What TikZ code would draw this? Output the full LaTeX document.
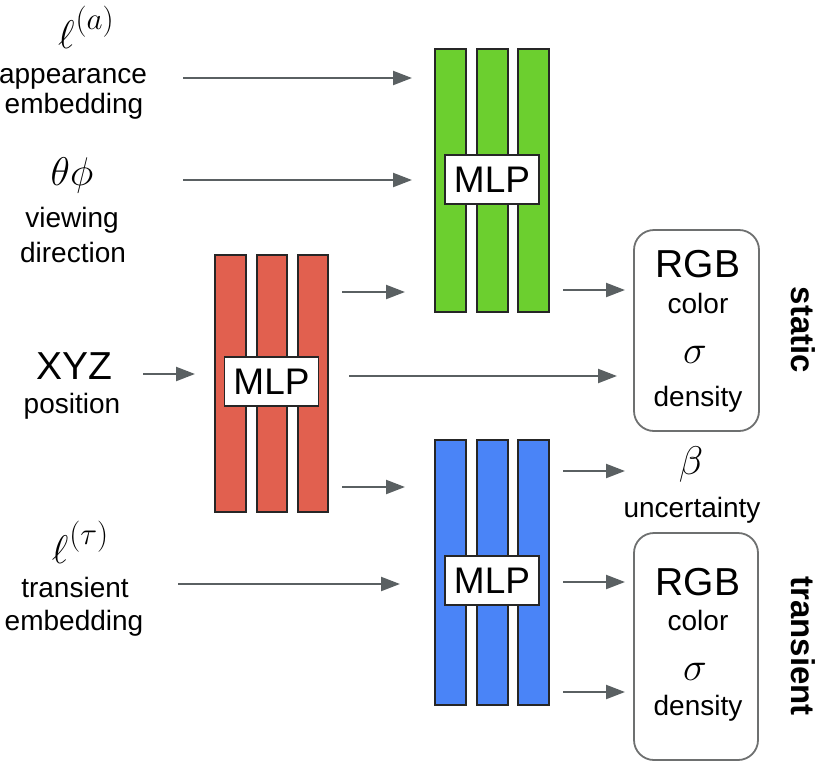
\RequirePackage{fix-cm}
\documentclass[tikz,border=0pt]{standalone}
\usepackage{fontspec}
\setmainfont{Liberation Sans}
\usepackage{graphicx}
\usetikzlibrary{arrows.meta}
\definecolor{gbar}{HTML}{6CCF2F}
\definecolor{rbar}{HTML}{E1604F}
\definecolor{bbar}{HTML}{4A84F7}
\definecolor{agray}{HTML}{5A6062}
\definecolor{boxgray}{HTML}{6E7070}
\newcommand{\ellsup}[1]{$\ell$\kern1pt\raisebox{19pt}{\scalebox{0.78}{$(#1)$}}}
\begin{document}
\begin{tikzpicture}[x=1pt,y=-1pt,
  bar/.style={draw=black!85, line width=1.8pt},
  mlp/.style={draw=black!85, fill=white, line width=1.8pt, minimum width=94pt, minimum height=49pt, inner sep=0pt, font=\fontsize{37}{40}\selectfont},
  arr/.style={draw=agray, line width=2.2pt, -{Triangle[length=19pt,width=14pt]}},
  lbl/.style={font=\fontsize{28}{30}\selectfont, inner sep=0pt, anchor=base},
  big/.style={font=\fontsize{39}{42}\selectfont, inner sep=0pt, anchor=base},
  mth/.style={font=\fontsize{40}{44}\selectfont, inner sep=0pt, anchor=base},
  outbox/.style={draw=boxgray, line width=1.8pt, rounded corners=20pt, inner sep=0pt},
  side/.style={font=\bfseries\fontsize{33}{36}\selectfont, rotate=-90, inner sep=0pt}
]
\useasboundingbox (0,0) rectangle (820,761);

% bars
\foreach \xa/\xb in {435/466,477/508,518/549}{
  \draw[bar, fill=gbar] (\xa,49) rectangle (\xb,312);
  \draw[bar, fill=bbar] (\xa,440) rectangle (\xb,705);
}
\foreach \xa/\xb in {215/246,257/287,298/328}{
  \draw[bar, fill=rbar] (\xa,255) rectangle (\xb,512);
}
\node[mlp] (mlpg) at (492,179.5) {MLP};
\node[mlp] (mlpr) at (271.5,381.5) {MLP};
\node[mlp] (mlpb) at (492,580.5) {MLP};

% output boxes
\node[outbox, minimum width=125pt, minimum height=201pt] (sbox) at (696.5,330.5) {};
\node[outbox, minimum width=124pt, minimum height=227pt] (tbox) at (696,646.5) {};

% left labels
\node[mth] (la) at (86,48) {\ellsup{a}};
\node[lbl] (app) at (73,83) {appearance};
\node[lbl] (emb1) at (74,113) {embedding};
\node[mth] (tp) at (72,185) {$\theta\phi$};
\node[lbl] (view) at (72,227) {viewing};
\node[lbl] (dir) at (73,262) {direction};
\node[big] (xyz) at (74,379) {XYZ};
\node[lbl] (pos) at (72,413) {position};
\node[mth] (lt) at (80,563) {\ellsup{\tau}};
\node[lbl] (tra) at (75,597) {transient};
\node[lbl] (emb2) at (74,630) {embedding};

% right labels
\node[big] (rgbs) at (698,277) {RGB};
\node[lbl] (cols) at (698,313) {color};
\node[mth] (sigs) at (695,363) {$\sigma$};
\node[lbl] (dens) at (698,406) {density};
\node[mth] (beta) at (691,474) {$\beta$};
\node[lbl] (unc) at (692,517) {uncertainty};
\node[big] (rgbt) at (698,595) {RGB};
\node[lbl] (colt) at (698,630) {color};
\node[mth] (sigt) at (695,680) {$\sigma$};
\node[lbl] (dent) at (698,715) {density};

\node[side] (stat) at (803,330) {static};
\node[side] (tran) at (803,646) {transient};

% connector end points
\coordinate (a1s) at (183,78);   \coordinate (a1e) at (412,78);
\coordinate (a2s) at (183,180);  \coordinate (a2e) at (412,180);
\coordinate (a3s) at (143,374);  \coordinate (a3e) at (195,374);
\coordinate (a4s) at (342,292);  \coordinate (a4e) at (405,292);
\coordinate (a5s) at (349,376);  \coordinate (a5e) at (617,376);
\coordinate (a6s) at (342,487);  \coordinate (a6e) at (405,487);
\coordinate (a7s) at (563,290);  \coordinate (a7e) at (625,290);
\coordinate (a8s) at (563,471);  \coordinate (a8e) at (625,471);
\coordinate (a9s) at (563,582);  \coordinate (a9e) at (625,582);
\coordinate (a10s) at (563,692); \coordinate (a10e) at (625,692);
\coordinate (a11s) at (178,584); \coordinate (a11e) at (400,584);

\foreach \i in {1,...,11}{ \draw[arr] (a\i s) -- (a\i e); }
\end{tikzpicture}
\end{document}
